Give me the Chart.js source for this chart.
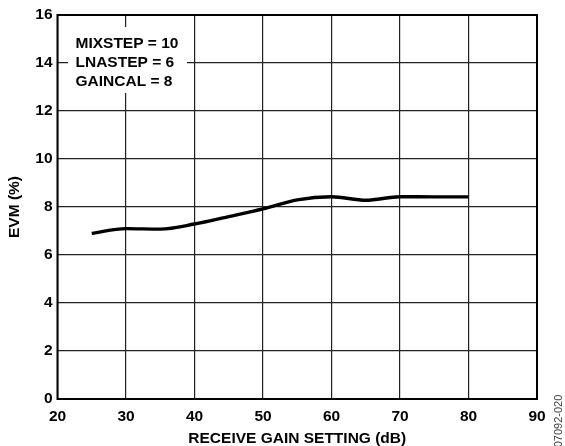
<!DOCTYPE html>
<html>
<head>
<meta charset="utf-8">
<script src="https://cdn.jsdelivr.net/npm/chart.js@4.4.1/dist/chart.umd.min.js"></script>
<style>
html,body{margin:0;padding:0;background:#fff;}
#wrap{width:565px;height:446px;position:relative;}
</style>
</head>
<body>
<div id="wrap"><canvas id="c" width="565" height="446"></canvas></div>
<script>
const gainSetting = [25, 30, 35, 40, 45, 50, 55, 60, 65, 70, 75, 80];
const evmPercent = [6.9, 7.1, 7.08, 7.29, 7.6, 7.92, 8.3, 8.43, 8.28, 8.43, 8.42, 8.42];
const annotationLines = ["MIXSTEP = 10", "LNASTEP = 6", "GAINCAL = 8"];
const xTitle = "RECEIVE GAIN SETTING (dB)";
const yTitle = "EVM (%)";
const figureId = "07092-020";

const FONT = "'Liberation Sans', Arial, sans-serif";
const FS = 15.5;

const framePlugin = {
  id: 'frame',
  afterDraw(chart) {
    const {ctx, chartArea: a} = chart;
    ctx.save();
    // annotation box
    ctx.fillStyle = '#fff';
    ctx.fillRect(68, 27, 119, 66);
    ctx.fillStyle = '#000';
    ctx.font = 'bold ' + FS + 'px ' + FONT;
    ctx.textBaseline = 'alphabetic';
    ctx.textAlign = 'left';
    annotationLines.forEach((t, i) => ctx.fillText(t, 75.5, 48.4 + i * 18.9));
    // frame
    ctx.strokeStyle = '#000';
    ctx.lineWidth = 2;
    ctx.strokeRect(a.left, a.top, a.right - a.left, a.bottom - a.top);
    // figure id
    ctx.translate(559, 421);
    ctx.rotate(-Math.PI / 2);
    ctx.font = '11px ' + FONT;
    ctx.fillStyle = '#444';
    ctx.textAlign = 'center';
    ctx.textBaseline = 'middle';
    ctx.fillText(figureId, 0, 0);
    ctx.restore();
  }
};

new Chart(document.getElementById('c'), {
  type: 'line',
  data: {
    datasets: [{
      data: gainSetting.map((x, i) => ({x, y: evmPercent[i]})),
      borderColor: '#000',
      borderWidth: 3.4,
      pointRadius: 0,
      tension: 0.4,
      cubicInterpolationMode: 'monotone',
      fill: false
    }]
  },
  options: {
    responsive: false,
    animation: false,
    devicePixelRatio: 1,
    layout: {padding: {top: 15, right: 28, left: 0, bottom: 0}},
    plugins: {legend: {display: false}, tooltip: {enabled: false}},
    scales: {
      x: {
        type: 'linear', min: 20, max: 90,
        ticks: {stepSize: 10, color: '#000', font: {family: FONT, size: FS, weight: 'bold'}, padding: 8, maxRotation: 0},
        grid: {color: '#222', lineWidth: 1.2, drawTicks: false},
        border: {display: false},
        title: {display: true, text: xTitle, color: '#000', font: {family: FONT, size: FS, weight: 'bold', lineHeight: 1.0}, padding: {top: 0, bottom: 0}},
        afterFit(s) { s.height = 47; }
      },
      y: {
        min: 0, max: 16,
        ticks: {stepSize: 2, color: '#000', font: {family: FONT, size: FS, weight: 'bold'}, padding: 5},
        grid: {color: '#222', lineWidth: 1.2, drawTicks: false},
        border: {display: false},
        title: {display: true, text: yTitle, color: '#000', font: {family: FONT, size: FS, weight: 'bold'}, padding: {top: 5, bottom: 0}},
        afterFit(s) { s.width = 57.5; }
      }
    }
  },
  plugins: [framePlugin]
});
</script>
</body>
</html>
